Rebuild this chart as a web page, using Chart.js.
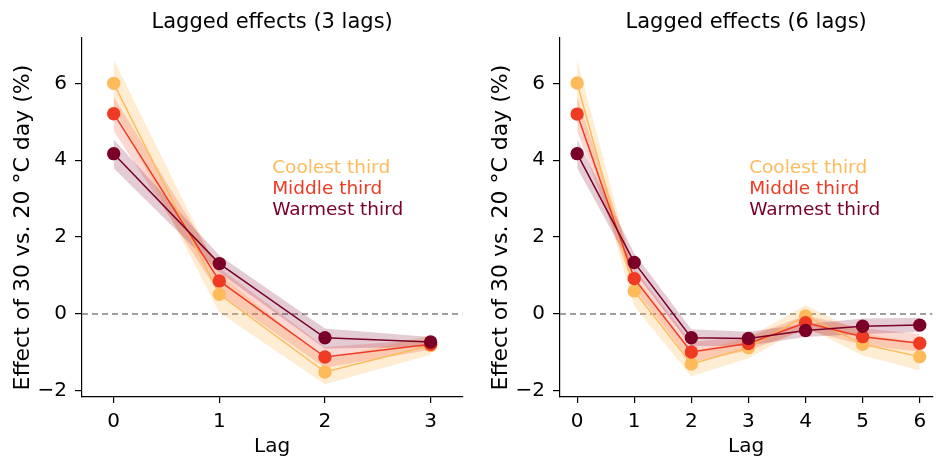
<!DOCTYPE html>
<html>
<head>
<meta charset="utf-8">
<script src="https://cdn.jsdelivr.net/npm/chart.js@4.4.0/dist/chart.umd.min.js"></script>
<style>
  body { margin: 0; background: #fff; width: 939px; height: 459px; position: relative; overflow: hidden; }
  .box { position: absolute; top: 0; height: 459px; }
  #box1 { left: 0; width: 469px; }
  #box2 { left: 478px; width: 461px; }
</style>
</head>
<body>
<div class="box" id="box1"><canvas id="chart1"></canvas></div>
<div class="box" id="box2"><canvas id="chart2"></canvas></div>
<script>
// ---- data: 3 lags ----
const lags3 = [0, 1, 2, 3];
const cool3 = [6.00, 0.51, -1.51, -0.82];
const cool3Lo = [5.40, 0.04, -1.83, -1.06];
const cool3Hi = [6.62, 1.05, -1.19, -0.55];
const mid3 = [5.21, 0.86, -1.12, -0.79];
const mid3Lo = [4.76, 0.52, -1.40, -0.93];
const mid3Hi = [5.65, 1.20, -0.86, -0.66];
const warm3 = [4.17, 1.31, -0.62, -0.73];
const warm3Lo = [3.79, 1.08, -0.90, -0.86];
const warm3Hi = [4.54, 1.52, -0.38, -0.60];

// ---- data: 6 lags ----
const lags6 = [0, 1, 2, 3, 4, 5, 6];
const cool6 = [6.01, 0.60, -1.30, -0.88, -0.05, -0.79, -1.11];
const cool6Lo = [5.40, 0.20, -1.62, -1.15, -0.34, -1.08, -1.47];
const cool6Hi = [6.62, 1.00, -0.98, -0.61, 0.23, -0.50, -0.75];
const mid6 = [5.20, 0.92, -0.99, -0.77, -0.23, -0.59, -0.76];
const mid6Lo = [4.76, 0.66, -1.25, -0.95, -0.42, -0.81, -0.98];
const mid6Hi = [5.65, 1.19, -0.73, -0.59, -0.04, -0.37, -0.52];
const warm6 = [4.17, 1.34, -0.62, -0.64, -0.43, -0.32, -0.29];
const warm6Lo = [3.80, 1.10, -0.84, -0.82, -0.60, -0.52, -0.47];
const warm6Hi = [4.54, 1.58, -0.40, -0.46, -0.26, -0.12, -0.10];

const yTicks = [-2, 0, 2, 4, 6];
const legendLabels = ['Coolest third', 'Middle third', 'Warmest third'];

const COOL = '#fdbb5c', MID = '#f03b24', WARM = '#7a0027';
const COOL_BAND = 'rgba(253,187,92,0.27)';
const MID_BAND = 'rgba(240,59,36,0.2)';
const WARM_BAND = 'rgba(122,0,39,0.2)';
const FONT = 'DejaVu Sans';

function pts(xs, ys) { return xs.map((x, i) => ({ x: x, y: ys[i] })); }

// bands (upper + lower filled to it) and line with dots for one series
function serie(xs, ys, lo, hi, color, band, lineOrder, bandOrder) {
  return [
    { data: pts(xs, hi), borderWidth: 0, pointRadius: 0, fill: false, order: bandOrder },
    { data: pts(xs, lo), borderWidth: 0, pointRadius: 0, fill: '-1', backgroundColor: band, order: bandOrder },
    { data: pts(xs, ys), borderColor: color, borderWidth: 1.5, pointRadius: 6.7, pointBorderWidth: 0,
      pointBackgroundColor: color, fill: false, order: lineOrder }
  ];
}

// dashed zero line, behind the data
const zeroLine = {
  id: 'zeroLine',
  beforeDatasetsDraw(chart) {
    const { ctx, chartArea, scales } = chart;
    const y = scales.y.getPixelForValue(0);
    ctx.save();
    ctx.strokeStyle = '#808080';
    ctx.lineWidth = 1.5;
    ctx.setLineDash([6, 4]);
    ctx.beginPath();
    ctx.moveTo(chartArea.left, y);
    ctx.lineTo(chartArea.right, y);
    ctx.stroke();
    ctx.restore();
  }
};

// coloured text legend inside the plot
const textLegend = {
  id: 'textLegend',
  afterDatasetsDraw(chart, args, opts) {
    const { ctx, chartArea } = chart;
    const x = chartArea.left + opts.fx * (chartArea.right - chartArea.left);
    const y0 = chartArea.bottom - opts.fy * (chartArea.bottom - chartArea.top);
    const colors = [COOL, MID, WARM];
    ctx.save();
    ctx.font = '18.5px "' + FONT + '"';
    ctx.textAlign = 'left';
    ctx.textBaseline = 'middle';
    legendLabels.forEach((t, i) => {
      ctx.fillStyle = colors[i];
      ctx.fillText(t, x, y0 + i * 21);
    });
    ctx.restore();
  }
};

function makeChart(id, titleText, xs, c, cLo, cHi, m, mLo, mHi, w, wLo, wHi, xMax, legendFx) {
  const datasets = [].concat(
    serie(xs, c, cLo, cHi, COOL, COOL_BAND, 3, 6),
    serie(xs, m, mLo, mHi, MID, MID_BAND, 2, 5),
    serie(xs, w, wLo, wHi, WARM, WARM_BAND, 1, 4)
  );
  return new Chart(document.getElementById(id), {
    type: 'line',
    data: { datasets: datasets },
    plugins: [zeroLine, textLegend],
    options: {
      responsive: true,
      maintainAspectRatio: false,
      animation: false,
      devicePixelRatio: 1,
      layout: { padding: { left: 0, right: 0, top: 0, bottom: 0 } },
      plugins: {
        legend: { display: false },
        tooltip: { enabled: false },
        title: {
          display: true, text: titleText, fullSize: false, color: '#000',
          font: { family: FONT, size: 21, weight: 'normal' },
          padding: { top: 10, bottom: 2 }
        },
        textLegend: { fx: legendFx, fy: 0.636 }
      },
      scales: {
        x: {
          type: 'linear', min: -0.3, max: xMax,
          afterBuildTicks: axis => { axis.ticks = xs.map(v => ({ value: v })); },
          afterFit: axis => { axis.height = 62; },
          ticks: { color: '#000', font: { family: FONT, size: 20 }, padding: 7, maxRotation: 0 },
          grid: { drawOnChartArea: false, drawTicks: true, tickLength: 6, color: '#000', lineWidth: 1.2 },
          border: { display: true, color: '#000', width: 1.2 },
          title: { display: true, text: 'Lag', color: '#000', font: { family: FONT, size: 20 }, padding: { top: 0, bottom: 0 } }
        },
        y: {
          min: -2.16, max: 7.2,
          afterBuildTicks: axis => { axis.ticks = yTicks.map(v => ({ value: v })); },
          afterFit: axis => { axis.width = 82; },
          ticks: { color: '#000', font: { family: FONT, size: 20 }, padding: 8,
            callback: v => String(v).replace('-', '\u2212') },
          grid: { drawOnChartArea: false, drawTicks: true, tickLength: 7, color: '#000', lineWidth: 1.2 },
          border: { display: true, color: '#000', width: 1.2 },
          title: { display: true, text: 'Effect of 30 vs. 20 \u00b0C day (%)\u00a0\u00a0\u00a0', color: '#000',
            font: { family: FONT, size: 22 }, padding: { top: 10, bottom: 0 } }
        }
      }
    }
  });
}

makeChart('chart1', 'Lagged effects (3 lags)', lags3,
  cool3, cool3Lo, cool3Hi, mid3, mid3Lo, mid3Hi, warm3, warm3Lo, warm3Hi, 3.3, 0.5);
makeChart('chart2', 'Lagged effects (6 lags)', lags6,
  cool6, cool6Lo, cool6Hi, mid6, mid6Lo, mid6Hi, warm6, warm6Lo, warm6Hi, 6.22, 0.508);
</script>
</body>
</html>
